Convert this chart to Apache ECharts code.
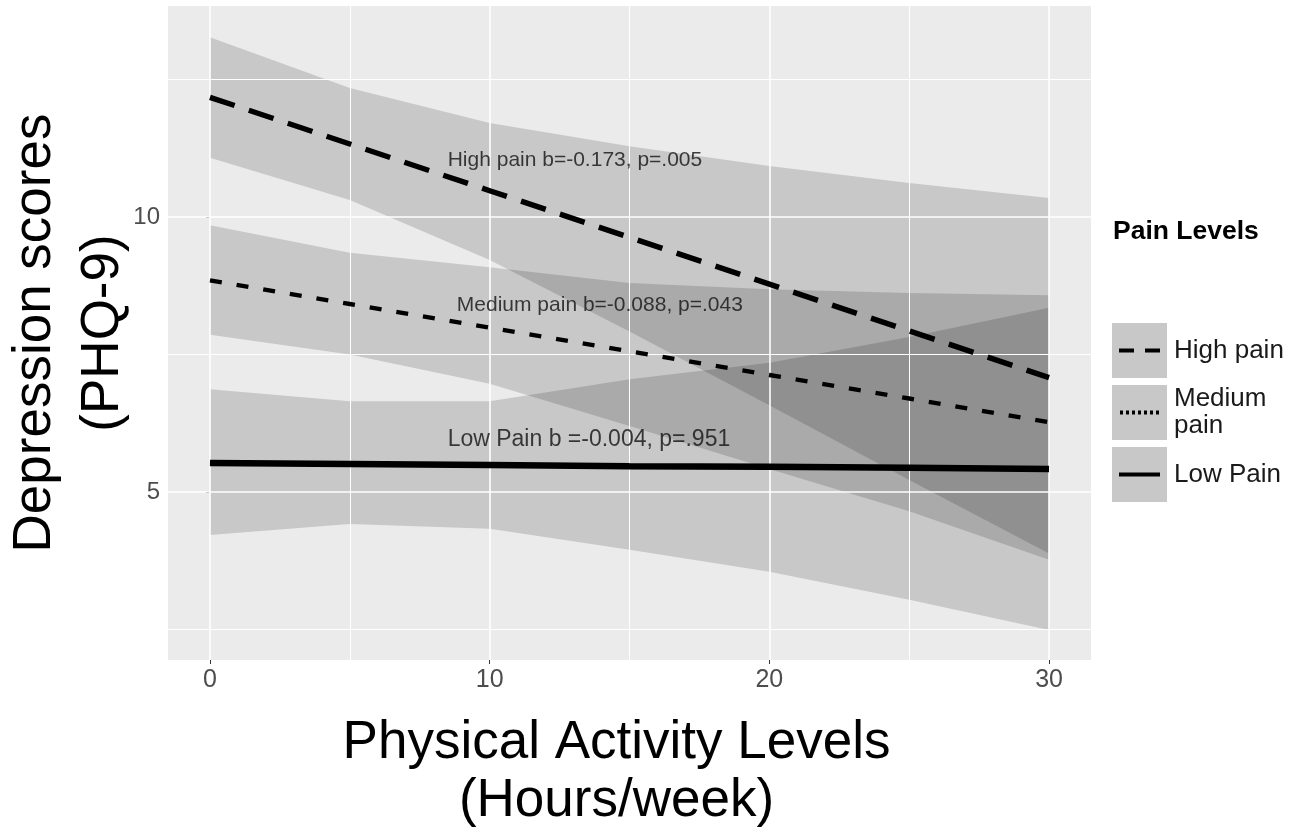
<!DOCTYPE html>
<html><head><meta charset="utf-8">
<script src="https://cdn.jsdelivr.net/npm/echarts@6/dist/echarts.min.js"></script>
<style>html,body{margin:0;padding:0;background:#fff}#c{width:1305px;height:833px}</style>
</head><body><div id="c"></div>
<script>
const hours = [0, 5, 10, 15, 20, 25, 30];
const highFit = [12.18, 11.33, 10.48, 9.63, 8.78, 7.93, 7.08];
const highLower = [11.08, 10.31, 9.22, 7.92, 6.58, 5.22, 3.88];
const highUpper = [13.27, 12.35, 11.71, 11.29, 10.93, 10.62, 10.35];
const medFit = [8.85, 8.42, 7.99, 7.56, 7.13, 6.70, 6.27];
const medLower = [7.86, 7.50, 6.97, 6.20, 5.42, 4.65, 3.77];
const medUpper = [9.85, 9.35, 9.09, 8.80, 8.69, 8.62, 8.58];
const lowFit = [5.53, 5.51, 5.49, 5.47, 5.46, 5.44, 5.42];
const lowLower = [4.22, 4.42, 4.33, 3.95, 3.55, 3.04, 2.49];
const lowUpper = [6.87, 6.65, 6.65, 7.05, 7.35, 7.82, 8.35];
const xTicks = [0, 10, 20, 30];
const yTicks = [5, 10];
const xGridMinor = [5, 15, 25];
const yGridMinor = [2.5, 7.5, 12.5];
const seriesNames = ['High pain', 'Medium pain', 'Low Pain'];
const annText = ['High pain b=-0.173, p=.005', 'Medium pain b=-0.088, p=.043', 'Low Pain b =-0.004, p=.951'];
const annX = [13.05, 13.94, 13.55];
const annY = [11.04, 8.40, 5.95];

const FONT = '"Liberation Sans", Arial, sans-serif';
const chart = echarts.init(document.getElementById('c'));

function ribbon(name, lo, hi) {
  return {
    type: 'custom', name: name, z: 2, silent: true,
    data: [[hours[0], lo[0]]],
    renderItem: function (params, api) {
      const pts = [];
      for (let i = 0; i < hours.length; i++) pts.push(api.coord([hours[i], hi[i]]));
      for (let i = hours.length - 1; i >= 0; i--) pts.push(api.coord([hours[i], lo[i]]));
      return { type: 'polygon', shape: { points: pts }, style: { fill: 'rgba(0,0,0,0.15)' } };
    }
  };
}
function toPts(fit) { return hours.map((x, i) => [x, fit[i]]); }

const gridLines = [].concat(
  xTicks.map(v => ({ xAxis: v, lineStyle: { width: 1.6 } })),
  xGridMinor.map(v => ({ xAxis: v, lineStyle: { width: 1 } })),
  yTicks.map(v => ({ yAxis: v, lineStyle: { width: 1.6 } })),
  yGridMinor.map(v => ({ yAxis: v, lineStyle: { width: 1 } }))
);

const option = {
  animation: false,
  textStyle: { fontFamily: FONT },
  title: {
    text: 'Pain Levels', left: 1113, top: 218, padding: 0,
    textStyle: { fontSize: 26.5, fontWeight: 'bold', color: '#000', fontFamily: FONT }
  },
  grid: { left: 168, right: 214, top: 6, bottom: 173, show: true, backgroundColor: '#EBEBEB', borderWidth: 0,
    containLabel: false, outerBoundsMode: 'none' },
  xAxis: {
    type: 'value', min: -1.5, max: 31.5,
    axisLine: { show: false }, splitLine: { show: false },
    axisTick: { show: true, customValues: xTicks, length: 4, lineStyle: { color: '#333333', width: 1 } },
    axisLabel: { customValues: xTicks, color: '#4D4D4D', fontSize: 25, margin: 8, fontFamily: FONT },
    name: 'Physical Activity Levels\n(Hours/week)', nameLocation: 'middle', nameGap: 54,
    nameTextStyle: { fontSize: 53, color: '#000', lineHeight: 58, fontFamily: FONT, padding: [0, 26, 0, 0] }
  },
  yAxis: {
    type: 'value', min: 1.945, max: 13.84,
    axisLine: { show: false }, splitLine: { show: false },
    axisTick: { show: true, customValues: yTicks, length: 4, lineStyle: { color: '#333333', width: 1 } },
    axisLabel: { customValues: yTicks, color: '#4D4D4D', fontSize: 24, margin: 8, fontFamily: FONT },
    name: 'Depression scores\n(PHQ-9)', nameLocation: 'middle', nameRotate: 90, nameGap: 31,
    nameMoveOverlap: false,
    nameTextStyle: { fontSize: 53, color: '#000', lineHeight: 68, fontFamily: FONT }
  },
  legend: {
    orient: 'vertical', left: 1119, top: 323, padding: 0, itemWidth: 41, itemHeight: 4, itemGap: 7,
    selectedMode: false,
    data: [
      { name: 'High pain', icon: 'path://M0,0H15V4H0Z M26,0H41V4H26Z' },
      { name: 'Medium pain', icon: 'path://M0,0H3V4H0Z M6,0H9V4H6Z M12,0H15V4H12Z M18,0H21V4H18Z M24,0H27V4H24Z M30,0H33V4H30Z M36,0H39V4H36Z',
        textStyle: { lineHeight: 27.5 } },
      { name: 'Low Pain', icon: 'path://M0,0H41V4H0Z' }
    ],
    formatter: n => n === 'Medium pain' ? 'Medium\npain' : n,
    textStyle: { fontSize: 26, color: '#1A1A1A', lineHeight: 55, padding: [0, 0, 0, 9], fontFamily: FONT }
  },
  graphic: [0, 1, 2].map(i => ({
    type: 'rect', left: 1112, top: 323 + i * 62, z: -1,
    shape: { width: 55, height: 55 }, style: { fill: '#C8C8C8' }
  })),
  series: [
    {
      type: 'line', name: 'gridlines', data: [[0, 5]], showSymbol: false, symbol: 'none', z: 1, silent: true,
      lineStyle: { opacity: 0 },
      markLine: {
        silent: true, symbol: 'none', animation: false, label: { show: false },
        lineStyle: { color: '#FFFFFF', type: 'solid' },
        data: gridLines
      }
    },
    ribbon('High ribbon', highLower, highUpper),
    ribbon('Medium ribbon', medLower, medUpper),
    ribbon('Low ribbon', lowLower, lowUpper),
    { type: 'line', name: seriesNames[0], data: toPts(highFit), symbol: 'none', showSymbol: false, z: 5,
      lineStyle: { color: '#000', width: 5.5, type: [26, 15] }, itemStyle: { color: '#000' } },
    { type: 'line', name: seriesNames[1], data: toPts(medFit), symbol: 'none', showSymbol: false, z: 5,
      lineStyle: { color: '#000', width: 4.5, type: [12, 15] }, itemStyle: { color: '#000' } },
    { type: 'line', name: seriesNames[2], data: toPts(lowFit), symbol: 'none', showSymbol: false, z: 5,
      lineStyle: { color: '#000', width: 6.5 }, itemStyle: { color: '#000' } },
    {
      type: 'scatter', name: 'annotations', z: 6, silent: true, symbolSize: 1,
      itemStyle: { color: 'transparent' },
      data: annX.map((x, i) => ({ value: [x, annY[i]], name: annText[i],
        label: { fontSize: i === 2 ? 23 : 21 } })),
      label: { show: true, position: 'inside', formatter: p => p.name, fontSize: 21, color: '#111111', fontFamily: FONT }
    }
  ]
};
chart.setOption(option);
</script></body></html>
